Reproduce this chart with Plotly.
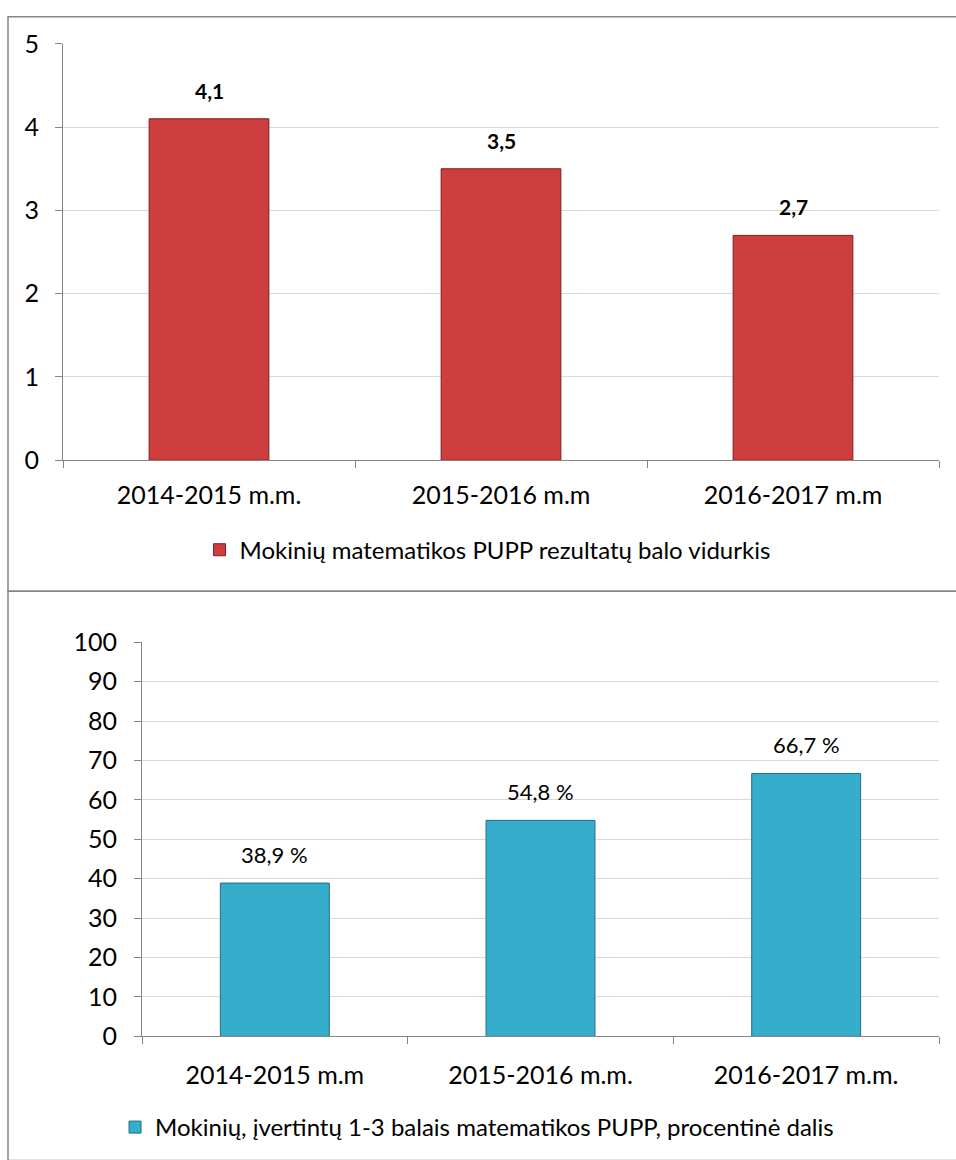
import plotly.graph_objects as go

cats_top = ["2014-2015 m.m.", "2015-2016 m.m", "2016-2017 m.m"]
vals_top = [4.1, 3.5, 2.7]
name_top = "Mokinių matematikos PUPP rezultatų balo vidurkis"

cats_bot = ["2014-2015 m.m", "2015-2016 m.m.", "2016-2017 m.m."]
vals_bot = [38.9, 54.8, 66.7]
name_bot = "Mokinių, įvertintų 1-3 balais matematikos PUPP, procentinė dalis"

FONT = "Lato, 'Open Sans', sans-serif"
W, H = 956, 1160


def px(x):
    return x / W


def py(y):
    return 1 - y / H


fig = go.Figure()
fig.add_trace(go.Bar(
    x=cats_top, y=vals_top, name=name_top, width=0.41,
    marker=dict(color="#CF3E3E", line=dict(color="#7E1E1E", width=1)),
    xaxis="x", yaxis="y", legend="legend", hoverinfo="x+y",
))
fig.add_trace(go.Bar(
    x=cats_bot, y=vals_bot, name=name_bot, width=0.41,
    marker=dict(color="#36ADCB", line=dict(color="#1E6F86", width=1)),
    xaxis="x2", yaxis="y2", legend="legend2", hoverinfo="x+y",
))

annotations = []
for c, v in zip(cats_top, vals_top):
    annotations.append(dict(x=c, y=v, xref="x", yref="y", yanchor="bottom",
                            text="<b>" + f"{v:.1f}".replace(".", ",") + "</b>",
                            showarrow=False, yshift=14,
                            font=dict(size=21, color="#000000", family=FONT)))
for c, v in zip(cats_bot, vals_bot):
    annotations.append(dict(x=c, y=v, xref="x2", yref="y2", yanchor="bottom",
                            text=f"{v:.1f}".replace(".", ",") + " %",
                            showarrow=False, yshift=13,
                            font=dict(size=22, color="#000000", family=FONT)))

axis_common = dict(showline=True, linecolor="#868686", linewidth=1,
                   ticks="outside", tickcolor="#868686", ticklen=7,
                   tickfont=dict(size=25, color="#000000", family=FONT))

fig.update_layout(
    width=W, height=H, margin=dict(l=0, r=0, t=0, b=0),
    paper_bgcolor="white", plot_bgcolor="white",
    separators=", ", showlegend=True,
    font=dict(family=FONT, color="#000000"),
    xaxis=dict(domain=[px(63), px(939)], anchor="y", tickson="boundaries",
               showgrid=False, ticklabelstandoff=13, **axis_common),
    yaxis=dict(domain=[py(456), py(28.6)], anchor="x", range=[0, 5], dtick=1,
               showgrid=True, gridcolor="#D9D9D9", zeroline=False,
               ticklabelstandoff=11, **axis_common),
    xaxis2=dict(domain=[px(142), px(939)], anchor="y2", tickson="boundaries",
                showgrid=False, ticklabelstandoff=17, **axis_common),
    yaxis2=dict(domain=[py(1047.5), py(642.8)], anchor="x2", range=[0, 100], dtick=10,
                showgrid=True, gridcolor="#D9D9D9", zeroline=False,
                ticklabelstandoff=12, **axis_common),
    legend=dict(orientation="h", x=0.51, xanchor="center", y=py(548.3), yanchor="middle",
                font=dict(size=24, family=FONT), itemwidth=30, bgcolor="rgba(0,0,0,0)"),
    legend2=dict(orientation="h", x=0.499, xanchor="center", y=py(1141), yanchor="middle",
                 font=dict(size=24, family=FONT), itemwidth=30, bgcolor="rgba(0,0,0,0)"),
    annotations=annotations,
    shapes=[
        dict(type="rect", xref="paper", yref="paper", x0=px(8), x1=px(962), y0=py(590.4), y1=py(0.8),
             line=dict(color="#868686", width=1.5), fillcolor="rgba(0,0,0,0)", layer="below"),
        dict(type="rect", xref="paper", yref="paper", x0=px(8), x1=px(962), y0=py(1175), y1=py(590.4),
             line=dict(color="#868686", width=1.5), fillcolor="rgba(0,0,0,0)", layer="below"),
    ],
)

post = (
    "document.documentElement.style.margin='0';"
    "document.documentElement.style.overflow='hidden';"
    "document.body.style.margin='0';document.body.style.padding='0';"
    "document.body.style.overflow='hidden';"
    "var d=document.getElementById('{plot_id}');"
    "d.style.position='fixed';d.style.left='0px';d.style.top='0px';"
)

fig.write_html("out.html", config={"displayModeBar": False}, post_script=post)
